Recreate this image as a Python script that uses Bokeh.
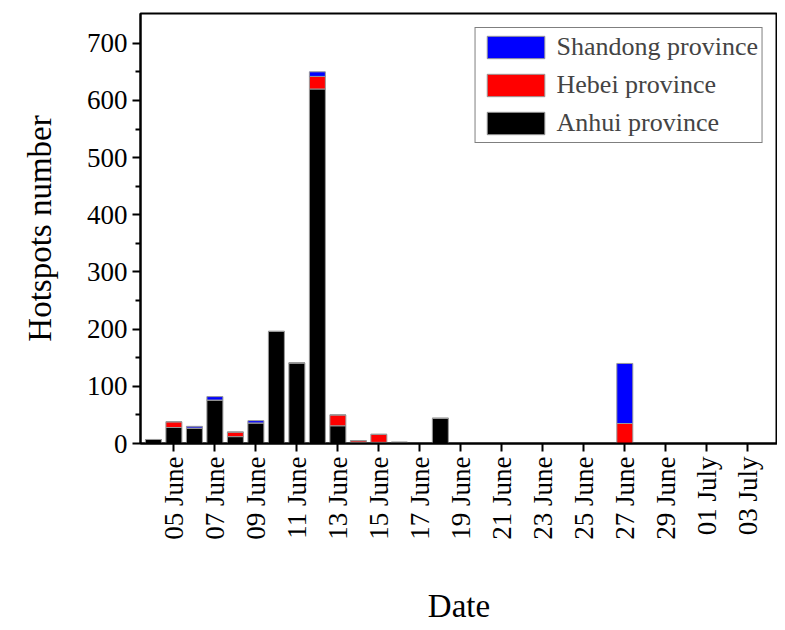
import numpy as np
from bokeh.plotting import figure
from bokeh.models import FixedTicker, Range1d, Legend, LegendItem
from bokeh.embed import file_html
from bokeh.resources import INLINE

days = list(range(0, 31))  # 0 = 04 June
anhui   = [7, 28, 27, 76, 12, 36, 196, 141, 620, 31, 2, 2, 2, 0, 44] + [0]*16
hebei   = [0, 10, 0, 0, 8, 0, 0, 0, 22, 19, 3, 14, 0, 0, 0] + [0]*16
shandong= [0, 0, 3, 6, 0, 4, 0, 0, 8, 0, 0, 0, 0, 0, 0] + [0]*16
hebei[23] = 35
shandong[23] = 105
tick_days = [1, 3, 5, 7, 9, 11, 13, 15, 17, 19, 21, 23, 25, 27, 29]
tick_labels = ["05 June", "07 June", "09 June", "11 June", "13 June", "15 June", "17 June",
               "19 June", "21 June", "23 June", "25 June", "27 June", "29 June", "01 July", "03 July"]

src = dict(x=days, anhui=anhui, hebei=hebei, shandong=shandong)
F = "Liberation Serif"
p = figure(frame_width=637, frame_height=430, output_backend="svg", toolbar_location=None,
           x_range=Range1d(-0.63, 30.45), y_range=Range1d(0, 752),
           min_border_left=140, min_border_right=0, min_border_top=13, min_border_bottom=5)
rs = p.vbar_stack(["anhui", "hebei", "shandong"], x="x", width=0.78, source=src,
                  fill_color=["black", "red", "blue"], line_color="#999999", line_width=1)
p.legend.visible = False
leg = Legend(items=[LegendItem(label="Shandong province", renderers=[rs[2]]),
                    LegendItem(label="Hebei province", renderers=[rs[1]]),
                    LegendItem(label="Anhui province", renderers=[rs[0]])],
             location="top_right", label_text_font=F, label_text_font_size="26px",
             glyph_width=72, glyph_height=28, label_height=28, spacing=8,
             border_line_color="black", border_line_width=1.5, padding=4, margin=14)
p.add_layout(leg)
p.grid.visible = False
p.outline_line_color = "black"
p.outline_line_width = 2
p.xaxis.ticker = FixedTicker(ticks=tick_days)
p.xaxis.major_label_overrides = {d: l for d, l in zip(tick_days, tick_labels)}
p.xaxis.major_label_orientation = np.pi/2
p.xaxis.minor_tick_line_color = None
p.yaxis.ticker = FixedTicker(ticks=list(range(0, 701, 100)), minor_ticks=list(range(50, 701, 100)))
for ax in (p.xaxis, p.yaxis):
    ax.major_label_text_font = F
    ax.major_label_text_font_size = "27px"
    ax.major_label_text_color = "black"
    ax.axis_label_text_font = F
    ax.axis_label_text_font_size = "33px"
    ax.axis_label_text_font_style = "normal"
    ax.axis_label_text_color = "black"
    ax.axis_line_width = 2
    ax.major_tick_line_width = 2
    ax.major_tick_in = 0
    ax.major_tick_out = 8
p.yaxis.minor_tick_out = 5
p.yaxis.minor_tick_in = 0
p.yaxis.minor_tick_line_width = 2
p.xaxis.axis_label = "Date"
p.yaxis.axis_label = "Hotspots number"
p.xaxis.axis_label_standoff = 45
p.yaxis.axis_label_standoff = 26
open("out.html", "w").write(file_html(p, INLINE))
